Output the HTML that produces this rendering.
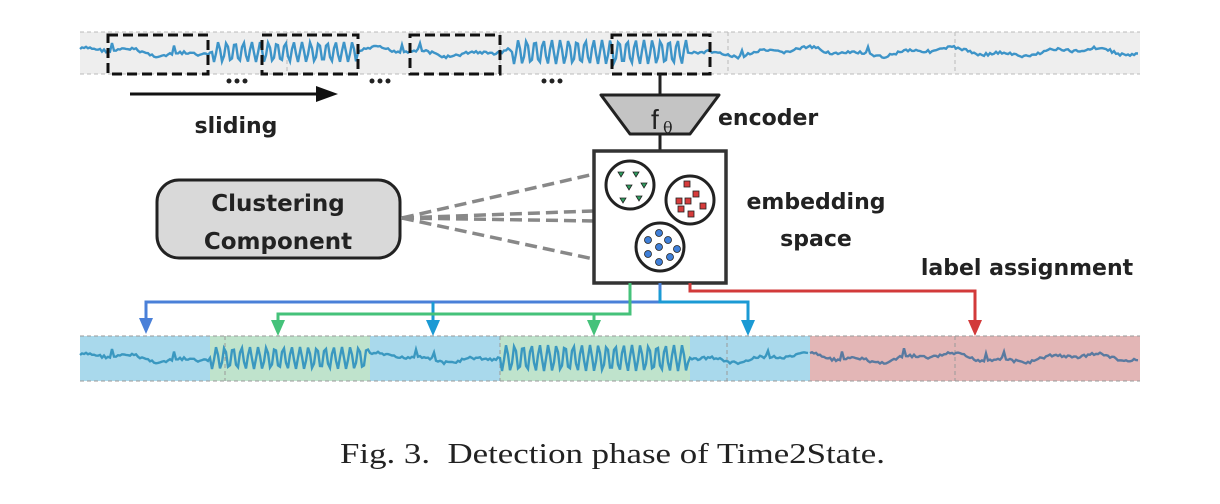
<!DOCTYPE html>
<html><head><meta charset="utf-8"><style>
html,body{margin:0;padding:0;background:#fff;}
svg{display:block;}
.b{font-family:"DejaVu Sans","Liberation Sans",sans-serif;font-weight:bold;fill:#222;}
</style></head><body>
<svg id="s" width="1220" height="504" viewBox="0 0 1220 504" xmlns="http://www.w3.org/2000/svg">
<rect x="80" y="32" width="1060" height="42" fill="#eeeeee"/>
<g stroke="#bbb" stroke-dasharray="4,3" stroke-width="1" fill="none">
<line x1="80" y1="32" x2="1140" y2="32"/><line x1="80" y1="74" x2="1140" y2="74"/>
<line x1="287" y1="32" x2="287" y2="74"/><line x1="500" y1="32" x2="500" y2="74"/><line x1="728" y1="32" x2="728" y2="74"/><line x1="955" y1="32" x2="955" y2="74"/>
</g>
<path id="w1" fill="none" stroke="#3d94c8" stroke-width="2.4"/>
<g stroke="#111" stroke-width="3" stroke-dasharray="10,5" fill="none">
<rect x="108" y="35" width="100" height="39"/><rect x="262" y="35" width="96" height="39"/>
<rect x="410" y="35" width="90" height="39"/><rect x="612" y="35" width="98" height="39"/>
</g>
<g fill="#222"><circle cx="229" cy="81" r="2.5"/><circle cx="237" cy="81" r="2.5"/><circle cx="245" cy="81" r="2.5"/>
<circle cx="372" cy="81" r="2.5"/><circle cx="380" cy="81" r="2.5"/><circle cx="388" cy="81" r="2.5"/>
<circle cx="544" cy="81" r="2.5"/><circle cx="552" cy="81" r="2.5"/><circle cx="560" cy="81" r="2.5"/></g>
<line x1="130" y1="94" x2="318" y2="94" stroke="#111" stroke-width="3"/>
<path d="M316,86 L338,94 L316,102z" fill="#111"/>
<text x="236" y="133" class="b" font-size="22" text-anchor="middle">sliding</text>
<line x1="660" y1="74" x2="660" y2="150" stroke="#222" stroke-width="3"/>
<path d="M601,95 L719,95 L690,134 L630,134z" fill="#c4c4c4" stroke="#222" stroke-width="3" stroke-linejoin="round"/>
<text x="651" y="129" font-family="Liberation Sans,sans-serif" font-size="28" fill="#222">f</text>
<text x="663" y="133" font-family="DejaVu Serif,serif" font-size="16" fill="#222">θ</text>
<text x="718" y="125" class="b" font-size="22">encoder</text>
<rect x="157" y="180" width="243" height="78" rx="22" fill="#d9d9d9" stroke="#222" stroke-width="3"/>
<text x="278" y="211" class="b" font-size="23" text-anchor="middle">Clustering</text>
<text x="278" y="249" class="b" font-size="23" text-anchor="middle">Component</text>
<g stroke="#888" stroke-width="3.5" stroke-dasharray="12,6" fill="none">
<line x1="402" y1="218" x2="612" y2="170"/><line x1="402" y1="218" x2="620" y2="210"/>
<line x1="402" y1="218" x2="658" y2="222"/><line x1="402" y1="218" x2="645" y2="270"/>
</g>
<rect x="594" y="151" width="132" height="132" fill="#fff" stroke="#333" stroke-width="3.5"/>
<g stroke="#222" stroke-width="3" fill="#fff">
<circle cx="630" cy="185" r="24"/><circle cx="690" cy="200" r="24"/><circle cx="660" cy="247" r="24"/>
</g>
<g fill="#2e9d5e" stroke="#222" stroke-width="0.8">
<path d="M618,172 l6,0 l-3,5z"/><path d="M633,172 l6,0 l-3,5z"/><path d="M626,185 l6,0 l-3,5z"/><path d="M641,183 l6,0 l-3,5z"/><path d="M620,198 l6,0 l-3,5z"/><path d="M636,196 l6,0 l-3,5z"/>
</g>
<g fill="#d63b3b" stroke="#222" stroke-width="0.8">
<rect x="684" y="181" width="6" height="6"/><rect x="693" y="191" width="6" height="6"/><rect x="676" y="198" width="6" height="6"/><rect x="685" y="198" width="6" height="6"/><rect x="700" y="203" width="6" height="6"/><rect x="678" y="206" width="6" height="6"/><rect x="688" y="211" width="6" height="6"/>
</g>
<g fill="#3f7fd8" stroke="#222" stroke-width="0.8">
<circle cx="659" cy="233" r="3.5"/><circle cx="648" cy="240" r="3.5"/><circle cx="668" cy="240" r="3.5"/><circle cx="659" cy="247" r="3.5"/><circle cx="677" cy="249" r="3.5"/><circle cx="648" cy="254" r="3.5"/><circle cx="670" cy="257" r="3.5"/><circle cx="659" cy="262" r="3.5"/>
</g>
<text x="816" y="209" class="b" font-size="22" text-anchor="middle">embedding</text>
<text x="816" y="246" class="b" font-size="22" text-anchor="middle">space</text>
<text x="1027" y="275" class="b" font-size="22" text-anchor="middle">label assignment</text>
<rect x="80" y="336" width="130" height="45" fill="#a9d9ec"/>
<rect x="210" y="336" width="160" height="45" fill="#bfe3cc"/>
<rect x="370" y="336" width="130" height="45" fill="#a9d9ec"/>
<rect x="500" y="336" width="190" height="45" fill="#bfe3cc"/>
<rect x="690" y="336" width="120" height="45" fill="#a9d9ec"/>
<rect x="810" y="336" width="330" height="45" fill="#e3b6b6"/>
<g stroke="#999" stroke-dasharray="4,3" stroke-width="1" fill="none">
<line x1="80" y1="336" x2="1140" y2="336"/><line x1="80" y1="381" x2="1140" y2="381"/>
<line x1="225" y1="336" x2="225" y2="381"/><line x1="500" y1="336" x2="500" y2="381"/><line x1="727" y1="336" x2="727" y2="381"/><line x1="955" y1="336" x2="955" y2="381"/>
</g>
<path id="w2" fill="none" stroke="#3a98c0" stroke-width="2.4"/>
<path id="w3" fill="none" stroke="#5a7aa0" stroke-width="2.4"/>
<g fill="none" stroke-width="3">
<path d="M660,283 V302 H146 V322" stroke="#4a80d8"/>
<path d="M433,302 V322" stroke="#1b9ad4"/>
<path d="M660,290 V302 H748 V322" stroke="#1b9ad4"/>
<path d="M630,283 V314 H278 V322" stroke="#45c27a"/>
<path d="M594,314 V322" stroke="#45c27a"/>
<path d="M690,283 V291 H975 V322" stroke="#d23a3a"/>
</g>
<path d="M139,318 L153,318 L146,334z" fill="#4a80d8"/>
<path d="M426,320 L440,320 L433,336z" fill="#1b9ad4"/>
<path d="M741,320 L755,320 L748,336z" fill="#1b9ad4"/>
<path d="M271,320 L285,320 L278,336z" fill="#45c27a"/>
<path d="M587,320 L601,320 L594,336z" fill="#45c27a"/>
<path d="M968,320 L982,320 L975,336z" fill="#d23a3a"/>
<text x="340" y="463" font-family="Liberation Serif,serif" font-size="29" fill="#222" textLength="545" lengthAdjust="spacingAndGlyphs" xml:space="preserve">Fig. 3.  Detection phase of Time2State.</text>
</svg>
<script>
(function(){
function gen(y0,segs){var d="",first=true,seed=7;function r(){seed=(seed*9301+49297)%233280;return seed/233280-0.5;}
for(var i=0;i<segs.length;i++){var s=segs[i];for(var x=s[0];x<s[1];x+=2){var y;if(s[2]){y=y0+Math.sin((x-s[0])*0.75)*s[2];}else{y=y0+r()*3+Math.sin(x*0.045)*3+Math.sin(x*0.13)*2;if(r()>0.485)y-=7;}
d+=(first?"M":"L")+x.toFixed(1)+","+y.toFixed(1);first=false;}}return d;}
document.getElementById("w1").setAttribute("d",gen(52,[[80,212,0],[212,358,10],[358,512,0],[512,690,12],[690,1140,0]]));
document.getElementById("w2").setAttribute("d",gen(358,[[80,210,0],[210,370,11],[370,500,0],[500,690,13],[690,810,0]]));
document.getElementById("w3").setAttribute("d",gen(358,[[810,1140,0]]));
})();
</script>
</body></html>
